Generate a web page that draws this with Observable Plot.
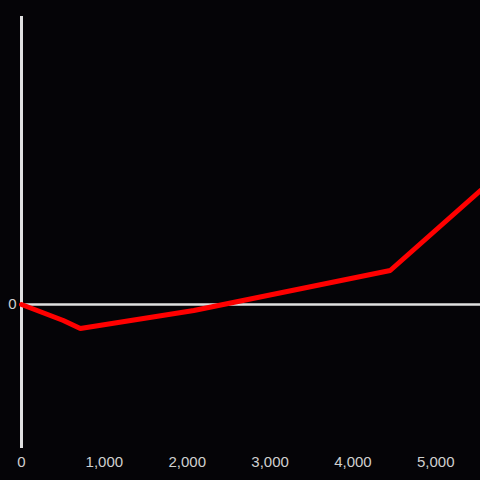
<!DOCTYPE html>
<html><head><meta charset="utf-8">
<script src="https://cdn.jsdelivr.net/npm/d3@7"></script>
<script src="https://cdn.jsdelivr.net/npm/@observablehq/plot@0.6"></script>
<style>
html,body{margin:0;padding:0;background:#050407;}
</style></head>
<body><div id="chart"></div>
<script>
const xValues = [0, 505, 710, 2080, 4450, 5540];
const yValues = [0, -16, -24, -6, 34, 114];
const xTicks = [0, 1000, 2000, 3000, 4000, 5000];
const yTicks = [0];
const data = xValues.map((x, i) => ({x, y: yValues[i]}));
const chart = Plot.plot({
  width: 480, height: 480,
  marginLeft: 21, marginRight: 0, marginTop: 16, marginBottom: 32,
  style: {background: "#050407", color: "#d0d0d0", fontFamily: "Liberation Sans, Arial, sans-serif", fontSize: "15px"},
  x: {domain: [0, 5540], ticks: xTicks, tickFormat: d3.format(","), tickSize: 0, tickPadding: 8, label: null},
  y: {domain: [-144, 288], ticks: yTicks, tickSize: 0, tickPadding: 5, label: null},
  marks: [
    Plot.ruleY([0], {stroke: "#e0e0e0", strokeWidth: 2.5}),
    Plot.ruleX([0], {stroke: "#e0e0e0", strokeWidth: 3}),
    Plot.line(data, {x: "x", y: "y", stroke: "#ff0000", strokeWidth: 5, strokeLinejoin: "miter"})
  ]
});
document.getElementById("chart").append(chart);
</script></body></html>
